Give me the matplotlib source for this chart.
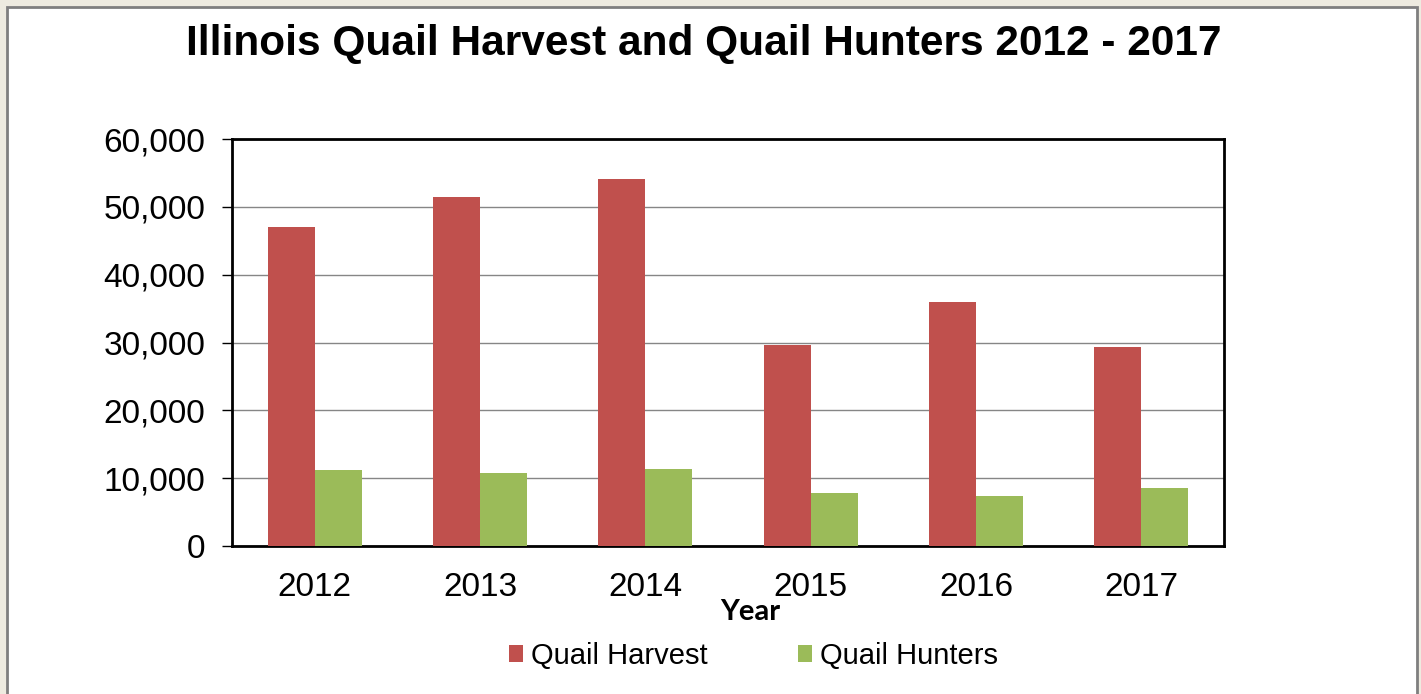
import matplotlib.pyplot as plt
import numpy as np
from matplotlib.patches import Rectangle
from matplotlib.ticker import FuncFormatter

years = ['2012', '2013', '2014', '2015', '2016', '2017']
quail_harvest = [47100, 51500, 54100, 29600, 36000, 29300]
quail_hunters = [11200, 10800, 11300, 7800, 7400, 8600]

plt.rcParams['font.family'] = ['Liberation Sans', 'DejaVu Sans']

fig = plt.figure(figsize=(14.21, 6.94), dpi=100, facecolor='#EEEBE0')
# white chart panel with grey frame
fig.patches.append(Rectangle((7/1421, -0.05), 1410/1421, 1.05 - 7/694,
                             transform=fig.transFigure, facecolor='white',
                             edgecolor='#7F7F7F', linewidth=2, zorder=-5))

ax = fig.add_axes([232/1421, 1 - 546/694, 992/1421, 407/694])
ax.set_zorder(2)
x = np.arange(len(years))
w = 0.285
ax.bar(x - w/2, quail_harvest, w, color='#C0504D', label='Quail Harvest', zorder=3)
ax.bar(x + w/2, quail_hunters, w, color='#9BBB59', label='Quail Hunters', zorder=3)

ax.set_xlim(-0.5, len(years) - 0.5)
ax.set_ylim(0, 60000)
ax.set_yticks(range(0, 60001, 10000))
ax.yaxis.set_major_formatter(FuncFormatter(lambda v, p: f'{int(v):,}'))
ax.set_xticks(x)
ax.set_xticklabels(years)
ax.tick_params(axis='y', labelsize=24, length=7, width=1, direction='out', pad=12)
ax.tick_params(axis='x', labelsize=24, length=0, pad=19)
ax.grid(axis='y', color='#868686', linewidth=1, zorder=0)
for s in ax.spines.values():
    s.set_linewidth(2)
    s.set_color('black')

ax.set_xlabel('Year', fontsize=21, fontweight='bold', family=['Lato', 'DejaVu Sans'], labelpad=-3)
ax.xaxis.label.set_x(0.522)
fig.suptitle('Illinois Quail Harvest and Quail Hunters 2012 - 2017',
             fontsize=30.5, fontweight='bold', x=0.495, y=0.965)

fig.legend(loc='center', bbox_to_anchor=(0.530, 1 - 656/694), ncol=2, frameon=False,
           fontsize=21, handlelength=0.5, handleheight=0.5, handletextpad=0.25,
           columnspacing=3.1)

fig.savefig('out.png', dpi=100, facecolor=fig.get_facecolor())
